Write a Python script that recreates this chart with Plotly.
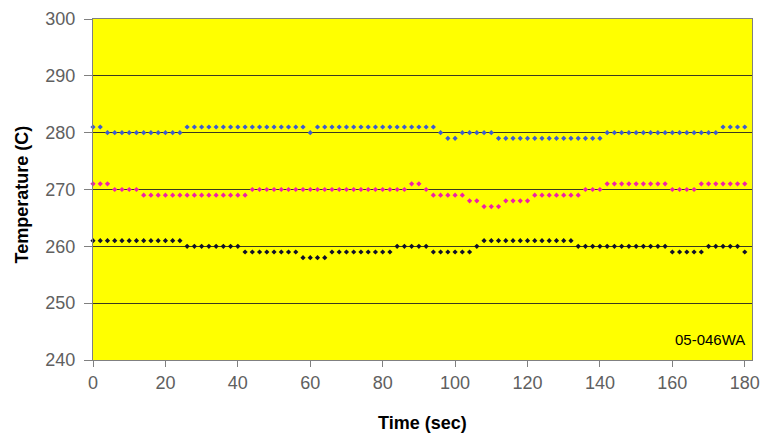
import plotly.graph_objects as go

time_sec = [0, 2, 4, 6, 8, 10, 12, 14, 16, 18, 20, 22, 24, 26, 28, 30, 32, 34, 36, 38,
            40, 42, 44, 46, 48, 50, 52, 54, 56, 58, 60, 62, 64, 66, 68, 70, 72, 74, 76, 78,
            80, 82, 84, 86, 88, 90, 92, 94, 96, 98, 100, 102, 104, 106, 108, 110, 112, 114, 116, 118,
            120, 122, 124, 126, 128, 130, 132, 134, 136, 138, 140, 142, 144, 146, 148, 150, 152, 154, 156, 158,
            160, 162, 164, 166, 168, 170, 172, 174, 176, 178, 180]

temp_blue = [281, 281, 280, 280, 280, 280, 280, 280, 280, 280, 280, 280, 280,
             281, 281, 281, 281, 281, 281, 281, 281, 281, 281, 281, 281, 281, 281, 281, 281, 281,
             280,
             281, 281, 281, 281, 281, 281, 281, 281, 281, 281, 281, 281, 281, 281, 281, 281, 281,
             280, 279, 279, 280, 280, 280, 280, 280,
             279, 279, 279, 279, 279, 279, 279, 279, 279, 279, 279, 279, 279, 279, 279,
             280, 280, 280, 280, 280, 280, 280, 280, 280, 280, 280, 280, 280, 280, 280, 280,
             281, 281, 281, 281]

temp_magenta = [271, 271, 271, 270, 270, 270, 270,
                269, 269, 269, 269, 269, 269, 269, 269, 269, 269, 269, 269, 269, 269, 269,
                270, 270, 270, 270, 270, 270, 270, 270, 270, 270, 270, 270, 270, 270, 270, 270,
                270, 270, 270, 270, 270, 270,
                271, 271, 270, 269, 269, 269, 269, 269, 268, 268, 267, 267, 267, 268, 268, 268, 268,
                269, 269, 269, 269, 269, 269, 269, 270, 270, 270,
                271, 271, 271, 271, 271, 271, 271, 271, 271,
                270, 270, 270, 270,
                271, 271, 271, 271, 271, 271, 271]

temp_black = [261, 261, 261, 261, 261, 261, 261, 261, 261, 261, 261, 261, 261,
              260, 260, 260, 260, 260, 260, 260, 260,
              259, 259, 259, 259, 259, 259, 259, 259,
              258, 258, 258, 258,
              259, 259, 259, 259, 259, 259, 259, 259, 259,
              260, 260, 260, 260, 260,
              259, 259, 259, 259, 259, 259,
              260,
              261, 261, 261, 261, 261, 261, 261, 261, 261, 261, 261, 261, 261,
              260, 260, 260, 260, 260, 260, 260, 260, 260, 260, 260, 260, 260,
              259, 259, 259, 259, 259,
              260, 260, 260, 260, 260,
              259]

x_ticks = [0, 20, 40, 60, 80, 100, 120, 140, 160, 180]
y_ticks = [240, 250, 260, 270, 280, 290, 300]

series = [
    ("Blue", temp_blue, "#3d5ccf"),
    ("Magenta", temp_magenta, "#f020a8"),
    ("Black", temp_black, "#10102a"),
]

fig = go.Figure()
for name, vals, col in series:
    fig.add_trace(go.Scatter(
        x=time_sec, y=vals, mode="markers", name=name,
        marker=dict(symbol="diamond", size=4, color=col, line=dict(width=0)),
        cliponaxis=False,
    ))

font_family = "Liberation Sans, Arial, sans-serif"

fig.update_layout(
    width=768, height=438,
    margin=dict(l=93, r=16, t=19, b=78, autoexpand=False),
    paper_bgcolor="white",
    plot_bgcolor="#ffff00",
    showlegend=False,
    font=dict(family=font_family, size=18, color="#595959"),
    annotations=[
        dict(text="05-046WA", xref="paper", yref="paper", x=0.993, y=0.03,
             xanchor="right", yanchor="bottom", showarrow=False,
             font=dict(family=font_family, size=15, color="black")),
        dict(text="<b>Time (sec)</b>", xref="paper", yref="paper",
             x=0.5, y=-0.185, xanchor="center", yanchor="middle", showarrow=False,
             font=dict(family=font_family, size=18, color="black")),
        dict(text="<b>Temperature (C)</b>", xref="paper", yref="paper",
             x=-0.108, y=0.485, xanchor="center", yanchor="middle", showarrow=False,
             textangle=-90,
             font=dict(family=font_family, size=18, color="black")),
    ],
)

fig.update_xaxes(
    range=[0, 182], tickvals=x_ticks, ticks="outside", ticklen=6,
    tickcolor="#808080", showline=True, linecolor="#808080", linewidth=1,
    mirror=True, showgrid=False, zeroline=False, automargin=False,
    tickfont=dict(size=18, color="#606060"),
)
fig.update_yaxes(
    range=[240, 300], tickvals=y_ticks, ticks="outside", ticklen=8,
    tickcolor="#808080", showline=True, linecolor="#808080", linewidth=1,
    mirror=True, showgrid=True, gridcolor="#3a3a20", gridwidth=1,
    zeroline=False, automargin=False, ticklabelstandoff=5,
    tickfont=dict(size=18, color="#606060"),
)

fig.write_html("out.html",
               config={"displayModeBar": False},
               post_script="document.body.style.margin='0';document.body.style.padding='0';")
